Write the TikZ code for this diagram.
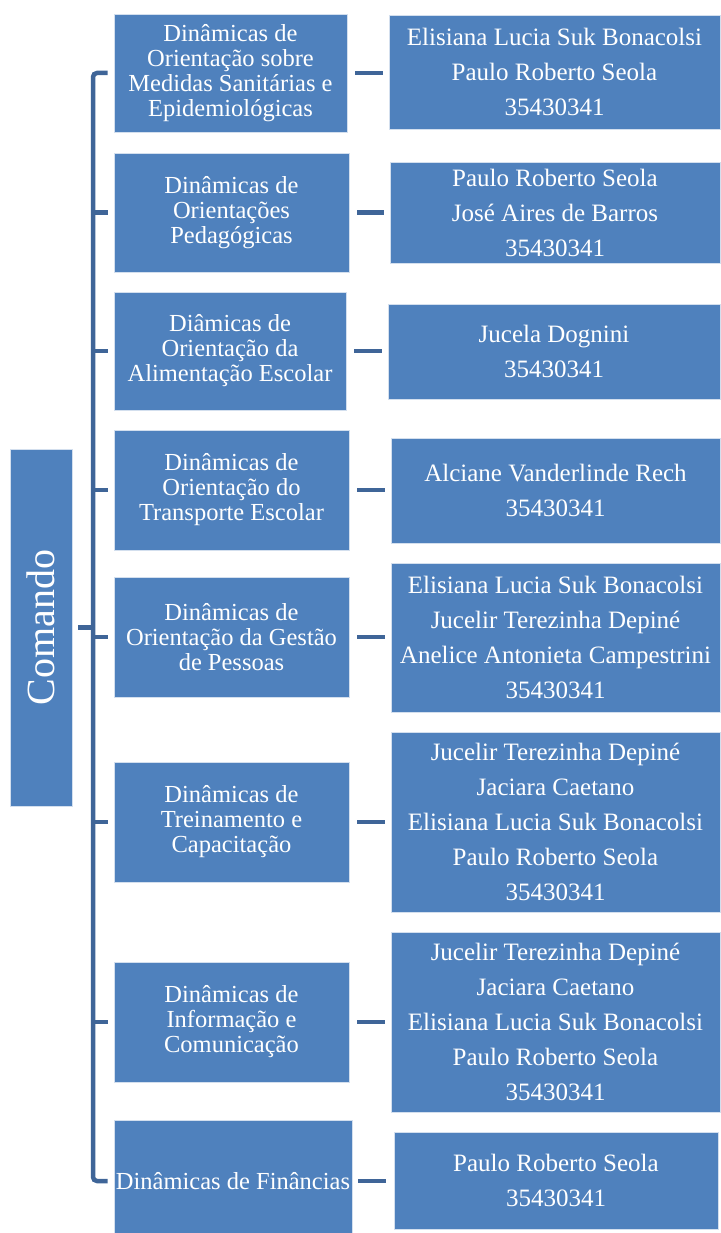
\documentclass[tikz,border=0pt]{standalone}
\usepackage{fontspec}
\setmainfont{Liberation Serif}
\definecolor{boxblue}{HTML}{4F81BD}
\definecolor{linkblue}{HTML}{3F6598}
\begin{document}
\begin{tikzpicture}[x=1pt,y=1pt,
  base/.style={fill=boxblue, draw=white!75!boxblue, line width=0.8pt, text=white, align=center, inner sep=0pt},
  midbox/.style={base, font=\fontsize{24.5}{25}\selectfont},
  midtext/.style={text=white, align=center, inner sep=0pt, font=\fontsize{24.5}{25}\selectfont},
  rbox/.style={base, font=\fontsize{25}{35}\selectfont},
  link/.style={draw=linkblue, line width=4.5pt},
]
\useasboundingbox (0,0) rectangle (720,-1233);
% Comando
\node[base, minimum width=357, minimum height=62, rotate=90, font=\fontsize{40}{44}\selectfont] (com) at (41,-627.5) {Comando};
% middle boxes
\node[midbox, minimum width=233, minimum height=118] (m1) at (230.5,-73) {Dinâmicas de\\Orientação sobre\\Medidas Sanitárias e\\Epidemiológicas};
\node[midbox, minimum width=235, minimum height=119] (m2) at (231.5,-212.5) {Dinâmicas de\\Orientações\\Pedagógicas};
\node[midbox, minimum width=232, minimum height=118] (m3) at (230,-351) {Diâmicas de\\Orientação da\\Alimentação Escolar};
\node[midbox, minimum width=235, minimum height=120] (m4) at (231.5,-490) {Dinâmicas de\\Orientação do\\Transporte Escolar};
\node[midbox, minimum width=235, minimum height=120] (m5) at (231.5,-637) {Dinâmicas de\\Orientação da Gestão\\de Pessoas};
\node[midbox, minimum width=235, minimum height=120] (m6) at (231.5,-822) {Dinâmicas de\\Treinamento e\\Capacitação};
\node[midbox, minimum width=235, minimum height=120] (m7) at (231.5,-1022) {Dinâmicas de\\Informação e\\Comunicação};
\node[midbox, minimum width=238, minimum height=118] (m8) at (233,-1179) {};
\node[midtext] (m8t) at (233,-1181) {Dinâmicas de Finâncias};
% right boxes
\node[rbox, minimum width=331, minimum height=114] (r1) at (554.5,-72) {Elisiana Lucia Suk Bonacolsi\\Paulo Roberto Seola\\35430341};
\node[rbox, minimum width=330, minimum height=101] (r2) at (555,-212.5) {Paulo Roberto Seola\\José Aires de Barros\\35430341};
\node[rbox, minimum width=332, minimum height=95] (r3) at (554,-351.5) {Jucela Dognini\\35430341};
\node[rbox, minimum width=329, minimum height=105] (r4) at (555.5,-490.5) {Alciane Vanderlinde Rech\\35430341};
\node[rbox, minimum width=329, minimum height=149] (r5) at (555.5,-637.5) {Elisiana Lucia Suk Bonacolsi\\Jucelir Terezinha Depiné\\Anelice Antonieta Campestrini\\35430341};
\node[rbox, minimum width=329, minimum height=180] (r6) at (555.5,-822) {Jucelir Terezinha Depiné\\Jaciara Caetano\\Elisiana Lucia Suk Bonacolsi\\Paulo Roberto Seola\\35430341};
\node[rbox, minimum width=329, minimum height=180] (r7) at (555.5,-1022) {Jucelir Terezinha Depiné\\Jaciara Caetano\\Elisiana Lucia Suk Bonacolsi\\Paulo Roberto Seola\\35430341};
\node[rbox, minimum width=324, minimum height=97] (r8) at (556,-1180.5) {Paulo Roberto Seola\\35430341};
% bus
\coordinate (bustop) at (93,-73);
\coordinate (busbot) at (93,-1181);
\draw[link, rounded corners=4pt] ([xshift=-6pt]m1.west) -- (bustop) -- (busbot) -- ([xshift=-6pt]m8.west |- busbot);
\draw[link] ([xshift=6pt]com.south) -- (com.south -| bustop);
\foreach \i in {2,...,7} {
  \draw[link] (m\i.west -| bustop) -- ([xshift=-6pt]m\i.west);
}
\foreach \i in {1,...,7} {
  \draw[link] ([xshift=8pt]m\i.east) -- ([xshift=-6pt]r\i.west |- m\i.east);
}
\draw[link] ([xshift=6pt]m8.east |- m8t.east) -- ([xshift=-8pt]r8.west |- m8t.east);
\end{tikzpicture}
\end{document}
